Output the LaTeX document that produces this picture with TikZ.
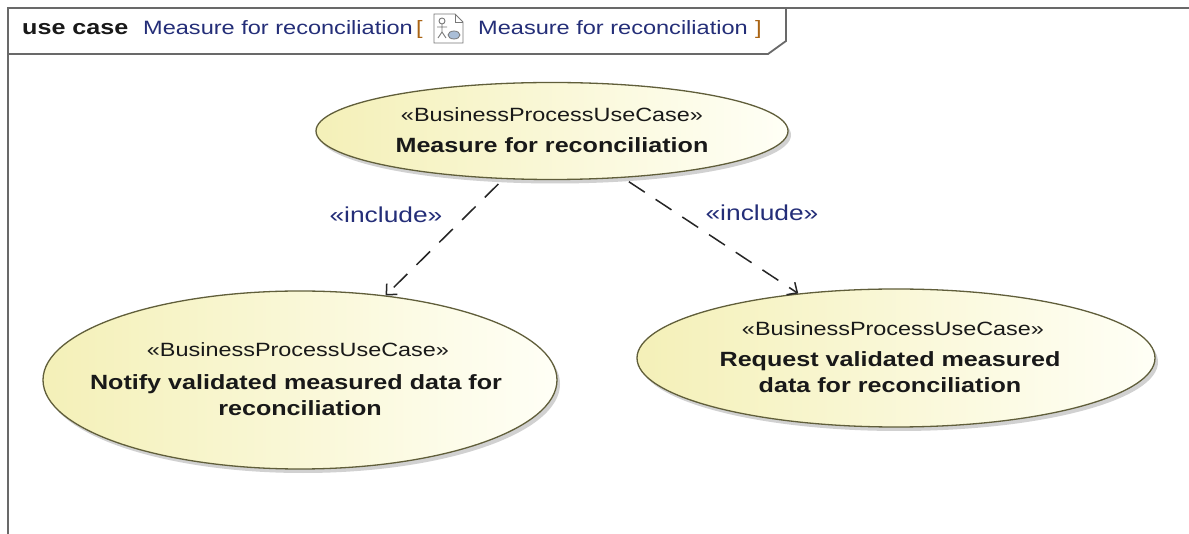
\documentclass[tikz,border=0pt]{standalone}
\usepackage{fontspec}
\setmainfont{Liberation Sans}
\newfontfamily\wfont[FakeStretch=1.22]{Liberation Sans}
\usetikzlibrary{shapes.geometric,arrows.meta,shadows}
\definecolor{frameC}{RGB}{105,105,105}
\definecolor{ucborder}{RGB}{96,94,58}
\definecolor{ucleft}{RGB}{244,240,184}
\definecolor{ucright}{RGB}{255,255,246}
\definecolor{navyC}{RGB}{36,46,120}
\definecolor{brkC}{RGB}{170,100,20}
\definecolor{iconC}{RGB}{120,120,120}
\definecolor{iconE}{RGB}{170,190,215}
\begin{document}
\begin{tikzpicture}[x=1pt,y=-1pt,
  frame/.style={draw=frameC, line width=1.8pt},
  uc/.style={ellipse, draw=ucborder, line width=1.3pt, left color=ucleft, right color=ucright,
    inner sep=0pt, drop shadow={shadow xshift=3pt, shadow yshift=-4pt, fill=black!45, opacity=0.4}},
  sttext/.style={font=\wfont\fontsize{19.2}{22}\selectfont, text=black!90, inner sep=0pt, anchor=base},
  nmtext/.style={font=\wfont\bfseries\fontsize{20.6}{24}\selectfont, text=black!90, inner sep=0pt, anchor=base},
  hdrreg/.style={font=\wfont\fontsize{19.3}{22}\selectfont, text=navyC, inner sep=0pt, anchor=base west},
  hdrbold/.style={font=\wfont\bfseries\fontsize{20.6}{22}\selectfont, text=black!90, inner sep=0pt, anchor=base west},
  inctext/.style={font=\wfont\fontsize{21.6}{24}\selectfont, text=navyC, inner sep=0pt, anchor=base},
  dep/.style={draw=black!85, line width=1.5pt, dash pattern=on 19pt off 13pt,
    -{Straight Barb[length=8pt,width=15pt]}, shorten <=7pt}
]
\useasboundingbox (0,0) rectangle (1189,534);
\fill[white] (0,0) rectangle (1189,534);
% frame
\draw[frame] (8,540) -- (8,8) -- (1195,8);
\draw[frame] (8,54) -- (768,54) -- (786,41) -- (786,8);
% header
\node[hdrbold] (kw) at (22,35) {use case};
\node[hdrreg] (hn1) at (143,35) {Measure for reconciliation};
\node[hdrreg, text=brkC] (lb) at (416,35) {[};
\draw[iconC, line width=0.9pt, fill=white] (434,14) -- (455,14) -- (463,22) -- (463,43) -- (434,43) -- cycle;
\draw[iconC, line width=0.9pt] (455,14) -- (455,22) -- (463,22);
\draw[iconC, line width=0.9pt] (442,21) circle (3);
\draw[iconC, line width=0.9pt] (442,24) -- (442,32) (437,27) -- (447,27) (442,32) -- (438,38) (442,32) -- (446,38);
\draw[iconC, line width=0.8pt, fill=iconE] (454,35) ellipse (6 and 4);
\node[hdrreg] (hn2) at (478,35) {Measure for reconciliation};
\node[hdrreg, text=brkC] (rb) at (755,35) {]};
% use cases
\node[uc, minimum width=472, minimum height=97] (top) at (552,131) {};
\node[uc, minimum width=514, minimum height=178] (left) at (300,380) {};
\node[uc, minimum width=518, minimum height=138] (right) at (896,358) {};
\node[sttext] (topS) at (552,122) {«BusinessProcessUseCase»};
\node[nmtext] (topN) at (552,153) {Measure for reconciliation};
\node[sttext] (leftS) at (298,357) {«BusinessProcessUseCase»};
\node[nmtext] (leftN1) at (296,390) {Notify validated measured data for};
\node[nmtext] (leftN2) at (300,416) {reconciliation};
\node[sttext] (rightS) at (893,336) {«BusinessProcessUseCase»};
\node[nmtext] (rightN1) at (890,367) {Request validated measured};
\node[nmtext] (rightN2) at (890,393) {data for reconciliation};
% includes
\draw[dep] (top) -- (left);
\draw[dep] (top) -- (right);
\node[inctext] (inc1) at (386,223) {«include»};
\node[inctext] (inc2) at (762,221) {«include»};
\end{tikzpicture}
\end{document}
